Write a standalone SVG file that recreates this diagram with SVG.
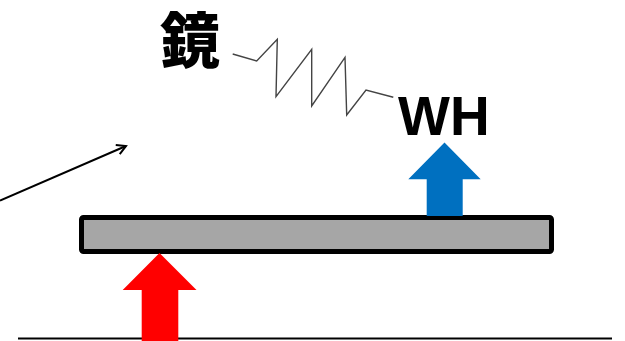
<svg xmlns="http://www.w3.org/2000/svg" width="625" height="341" viewBox="0 0 625 341">
<style>
.lbl{font-family:"Liberation Sans",Arial,sans-serif;font-weight:bold;fill:#000}
.cjk{font-family:"Noto Sans CJK JP","Noto Sans CJK SC",sans-serif;font-weight:900;fill:#000}
</style>
<defs>
<marker id="open" viewBox="0 0 12 12" refX="10" refY="6" markerWidth="12" markerHeight="12" markerUnits="userSpaceOnUse" orient="auto">
<path d="M1,1 L10,6 L1,11" fill="none" stroke="#000" stroke-width="2"/>
</marker>
</defs>
<g id="ground"><line x1="18" y1="338.5" x2="612" y2="338.5" stroke="#000" stroke-width="2"/></g>
<g id="bar"><rect x="81.5" y="217.5" width="470" height="34" rx="2" fill="#A6A6A6" stroke="#000" stroke-width="5"/></g>
<g id="red-arrow"><polygon points="159.5,253 196.5,290 178.3,290 178.3,341 141.7,341 141.7,290 122.7,290" fill="#FF0000"/></g>
<g id="blue-arrow"><polygon points="444.5,142.5 480.7,179.3 462.7,179.3 462.7,216 426.7,216 426.7,179.3 408.3,179.3" fill="#0070C0"/></g>
<g id="label-kagami"><text class="cjk" x="160" y="63" font-size="60">鏡</text></g>
<g id="label-wh"><text class="lbl" x="398" y="135" font-size="55">WH</text></g>
<g id="connectors">
<polyline points="232.7,54 256.7,61 277.3,39.3 276,96.7 311.7,49.3 311.7,106 345,57.3 346.7,115 366,90 393.3,97.3" fill="none" stroke="#444" stroke-width="1.4"/>
<line x1="0" y1="200.7" x2="126" y2="146" stroke="#000" stroke-width="2" marker-end="url(#open)"/>
</g>
</svg>
